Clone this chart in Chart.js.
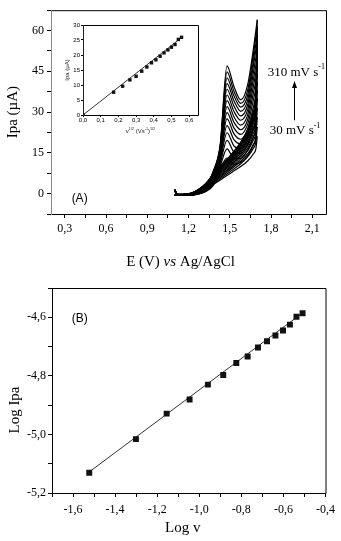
<!DOCTYPE html>
<html>
<head>
<meta charset="utf-8">
<script src="https://cdn.jsdelivr.net/npm/chart.js@4.4.0/dist/chart.umd.min.js"></script>
<style>
  html, body { margin: 0; padding: 0; background: #fff; }
  #wrap { position: relative; width: 341px; height: 541px; }
  canvas { position: absolute; }
  #cv-chart { left: 0; top: 0; }
  #inset-chart { left: 58px; top: 18px; }
  #log-chart { left: 0; top: 270px; }
</style>
</head>
<body>
<div id="wrap">
  <canvas id="cv-chart" width="341" height="270"></canvas>
  <canvas id="inset-chart" width="146" height="122"></canvas>
  <canvas id="log-chart" width="341" height="271"></canvas>
</div>
<script>
// scan rates, mV/s
const scanRates = [30, 50, 70, 90, 110, 130, 150, 170, 190, 210, 230, 250, 270, 290, 310];

// voltammograms (A): potential grid for forward and reverse sweeps, currents in uA
const forwardE = [1.10, 1.12, 1.20, 1.26, 1.32, 1.38, 1.43, 1.48, 1.53, 1.58, 1.63, 1.67, 1.70];
const forwardI = [
  [0.8, -0.4, -0.5, -0.3, 0.6, 3.0, 9.0, 13.1, 10.8, 11.5, 14.0, 17.5, 21.0],
  [0.9, -0.4, -0.5, -0.3, 0.8, 3.5, 10.0, 16.5, 13.0, 13.0, 16.0, 20.5, 24.5],
  [1.0, -0.4, -0.5, -0.2, 0.9, 4.0, 11.0, 19.6, 15.4, 14.8, 18.0, 23.5, 28.0],
  [1.0, -0.4, -0.5, -0.2, 1.0, 4.4, 11.8, 22.4, 17.6, 16.5, 20.0, 26.5, 31.5],
  [1.1, -0.4, -0.5, -0.2, 1.1, 4.8, 12.6, 25.0, 19.9, 18.3, 22.0, 29.0, 35.0],
  [1.1, -0.4, -0.4, -0.1, 1.2, 5.2, 13.3, 27.5, 22.1, 20.0, 23.8, 31.5, 38.0],
  [1.2, -0.4, -0.4, -0.1, 1.3, 5.6, 14.0, 29.8, 24.2, 21.8, 25.5, 34.0, 41.0],
  [1.2, -0.4, -0.4, -0.1, 1.4, 6.0, 14.6, 32.0, 26.3, 23.5, 27.2, 36.5, 44.0],
  [1.3, -0.3, -0.4, 0.0, 1.6, 6.4, 15.2, 34.2, 28.3, 25.2, 29.0, 39.0, 47.0],
  [1.3, -0.3, -0.4, 0.0, 1.7, 6.8, 15.7, 36.3, 30.3, 27.0, 30.8, 41.5, 50.0],
  [1.4, -0.3, -0.4, 0.0, 1.8, 7.1, 16.2, 38.4, 32.3, 28.6, 32.6, 44.0, 53.0],
  [1.4, -0.3, -0.4, 0.1, 1.9, 7.4, 16.6, 40.5, 34.2, 30.3, 34.4, 46.5, 56.0],
  [1.5, -0.3, -0.3, 0.1, 2.0, 7.7, 17.0, 42.6, 36.0, 31.8, 36.2, 48.5, 58.5],
  [1.5, -0.3, -0.3, 0.1, 2.1, 8.0, 17.4, 44.8, 37.8, 33.2, 38.0, 50.5, 61.5],
  [1.6, -0.3, -0.3, 0.2, 2.2, 8.3, 17.8, 47.0, 39.5, 34.5, 40.0, 52.5, 64.0]
];
const reverseE = [1.70, 1.69, 1.67, 1.63, 1.58, 1.52, 1.46, 1.40, 1.32, 1.22, 1.10];
const reverseI = [
  [21.0, 16.5, 14.5, 12.0, 10.0, 8.0, 6.0, 4.0, 1.4, -0.2, -0.6],
  [24.5, 19.0, 16.5, 13.5, 11.0, 8.7, 6.6, 4.4, 1.6, -0.2, -0.6],
  [28.0, 21.0, 18.0, 14.7, 12.0, 9.4, 7.1, 4.8, 1.8, -0.1, -0.6],
  [31.5, 23.0, 19.5, 15.8, 12.8, 10.0, 7.6, 5.2, 2.0, -0.1, -0.6],
  [35.0, 24.8, 20.8, 16.8, 13.6, 10.6, 8.0, 5.6, 2.2, -0.1, -0.6],
  [38.0, 26.5, 22.0, 17.7, 14.3, 11.1, 8.5, 6.0, 2.4, 0.0, -0.6],
  [41.0, 28.0, 23.2, 18.5, 15.0, 11.6, 8.9, 6.3, 2.6, 0.0, -0.6],
  [44.0, 29.5, 24.3, 19.3, 15.6, 12.1, 9.3, 6.6, 2.7, 0.0, -0.5],
  [47.0, 31.0, 25.4, 20.0, 16.2, 12.6, 9.7, 6.9, 2.8, 0.0, -0.5],
  [50.0, 32.3, 26.4, 20.7, 16.8, 13.0, 10.1, 7.2, 3.0, 0.1, -0.5],
  [53.0, 33.6, 27.3, 21.4, 17.3, 13.4, 10.4, 7.5, 3.1, 0.1, -0.5],
  [56.0, 34.8, 28.1, 22.0, 17.8, 13.9, 10.7, 7.8, 3.2, 0.1, -0.5],
  [58.5, 35.9, 28.8, 22.5, 18.2, 14.3, 11.0, 8.0, 3.3, 0.2, -0.5],
  [61.5, 37.0, 29.4, 23.0, 18.6, 14.7, 11.3, 8.3, 3.4, 0.2, -0.5],
  [64.0, 38.0, 30.0, 23.5, 19.0, 15.0, 11.5, 8.5, 3.5, 0.2, -0.5]
];

// inset: Ipa vs v^1/2
const insetX = [0, 0.173, 0.224, 0.265, 0.300, 0.332, 0.361, 0.387, 0.412, 0.436, 0.458, 0.480, 0.500, 0.520, 0.539, 0.557];
const insetY = [0, 7.6, 9.6, 11.7, 12.9, 14.6, 16.0, 17.4, 18.4, 19.6, 20.7, 21.7, 22.6, 23.5, 25.2, 25.9];
const insetFitX = [0, 0.557];
const insetFitY = [0, 25.8];

// (B): log Ipa vs log v
const logV = [-1.523, -1.301, -1.155, -1.046, -0.959, -0.886, -0.824, -0.770, -0.721, -0.678, -0.638, -0.602, -0.569, -0.538, -0.509];
const logIpa = [-5.131, -5.016, -4.929, -4.881, -4.830, -4.797, -4.756, -4.734, -4.703, -4.682, -4.662, -4.645, -4.625, -4.598, -4.586];
const logFitX = [-1.523, -0.509];
const logFitY = [-5.128, -4.585];

const SERIF = '"Liberation Serif", "Times New Roman", serif';
const SANS = '"Liberation Sans", Arial, sans-serif';

Chart.defaults.font.family = SERIF;
Chart.defaults.font.size = 12;
Chart.defaults.color = '#000';
Chart.defaults.animation = false;
Chart.defaults.plugins.legend.display = false;
Chart.defaults.plugins.tooltip.enabled = false;

const comma = v => v.toFixed(1).replace('.', ',');

// text with superscripts / italics: parts = [[text, sup, italic], ...]
function drawRich(ctx, parts, x, y, size, family, align) {
  const fontOf = p => (p[2] ? 'italic ' : '') + (p[1] ? size * 0.62 : size) + 'px ' + family;
  const widths = parts.map(p => { ctx.font = fontOf(p); return ctx.measureText(p[0]).width; });
  const total = widths.reduce((a, b) => a + b, 0);
  let cx = align === 'center' ? x - total / 2 : x;
  ctx.textAlign = 'left';
  ctx.textBaseline = 'middle';
  parts.forEach((p, i) => {
    ctx.font = fontOf(p);
    ctx.fillText(p[0], cx, p[1] ? y - size * 0.4 : y);
    cx += widths[i];
  });
}

function frame(ctx, a, leftColor) {
  ctx.save();
  ctx.lineWidth = 1;
  ctx.strokeStyle = '#000';
  ctx.beginPath();
  ctx.moveTo(a.left, a.top + 0.5);
  ctx.lineTo(a.right + 0.5, a.top + 0.5);
  ctx.lineTo(a.right + 0.5, a.bottom + 0.5);
  ctx.lineTo(a.left, a.bottom + 0.5);
  ctx.stroke();
  ctx.strokeStyle = leftColor || '#000';
  ctx.beginPath();
  ctx.moveTo(a.left + 0.5, a.top);
  ctx.lineTo(a.left + 0.5, a.bottom + 1);
  ctx.stroke();
  ctx.restore();
}

function axisOpts(min, max, step, width, height, labelFn, pad) {
  return {
    type: 'linear', min: min, max: max,
    afterFit: s => { if (width) s.width = width; if (height) s.height = height; },
    border: { display: false },
    grid: { drawOnChartArea: false, drawTicks: true, tickLength: 4, color: '#000' },
    ticks: { stepSize: step, includeBounds: false, autoSkip: false, maxRotation: 0, padding: pad, callback: labelFn }
  };
}

// ---------- (A) voltammograms ----------
const cvDatasets = [];
scanRates.forEach((rate, k) => {
  const style = { showLine: true, borderColor: '#000', borderWidth: 1.2, pointRadius: 0, cubicInterpolationMode: 'monotone', fill: false };
  cvDatasets.push(Object.assign({ label: rate + ' fwd', data: forwardE.map((e, i) => ({ x: e, y: forwardI[k][i] })) }, style));
  cvDatasets.push(Object.assign({ label: rate + ' rev', data: reverseE.map((e, i) => ({ x: e, y: reverseI[k][i] })) }, style));
});

new Chart(document.getElementById('cv-chart'), {
  type: 'scatter',
  data: { datasets: cvDatasets },
  options: {
    responsive: false,
    devicePixelRatio: 1,
    layout: { padding: { top: 6, right: 15, left: 0, bottom: 0 } },
    scales: {
      x: axisOpts(0.2, 2.2, 0.15, null, 56, v => Math.round(v / 0.15) % 2 === 0 ? comma(v) : '', 4),
      y: axisOpts(-7.5, 67.5, 7.5, 51, null, v => {
        const n = Math.round(v / 7.5);
        return n % 2 === 0 && n >= 0 && n <= 8 ? String(Math.round(v)) : '';
      }, 3)
    }
  },
  plugins: [{
    id: 'cvDecor',
    afterDraw(chart) {
      const { ctx, chartArea: a, scales: { x, y } } = chart;
      frame(ctx, a, '#8a8a8a');
      ctx.save();
      ctx.fillStyle = '#000';
      // axis titles
      ctx.save();
      ctx.translate(13, (a.top + a.bottom) / 2);
      ctx.rotate(-Math.PI / 2);
      drawRich(ctx, [['Ipa (\u00b5A)']], 0, 0, 15, SERIF, 'center');
      ctx.restore();
      drawRich(ctx, [['E (V) '], ['vs', false, true], [' Ag/AgCl']], (a.left + a.right) / 2 - 8, 262, 15, SERIF, 'center');
      // panel letter
      drawRich(ctx, [['(A)']], x.getPixelForValue(0.35), y.getPixelForValue(-1.7), 12, SANS, 'left');
      // scan-rate labels and arrow
      drawRich(ctx, [['310 mV s'], ['-1', true]], x.getPixelForValue(1.776), y.getPixelForValue(44.6), 13, SERIF, 'left');
      drawRich(ctx, [['30 mV s'], ['-1', true]], x.getPixelForValue(1.79), y.getPixelForValue(23.1), 13, SERIF, 'left');
      const ax = Math.round(x.getPixelForValue(1.965)) + 0.5;
      const y0 = y.getPixelForValue(27), y1 = y.getPixelForValue(41.4);
      ctx.strokeStyle = '#000';
      ctx.lineWidth = 1;
      ctx.beginPath();
      ctx.moveTo(ax, y0);
      ctx.lineTo(ax, y1 + 4);
      ctx.stroke();
      ctx.beginPath();
      ctx.moveTo(ax, y1);
      ctx.lineTo(ax - 2.5, y1 + 7);
      ctx.lineTo(ax + 2.5, y1 + 7);
      ctx.closePath();
      ctx.fill();
      ctx.restore();
    }
  }]
});

// ---------- inset ----------
new Chart(document.getElementById('inset-chart'), {
  type: 'scatter',
  data: {
    datasets: [
      { label: 'Ipa', data: insetX.map((v, i) => ({ x: v, y: insetY[i] })), pointStyle: 'rect', pointRadius: 2.4, backgroundColor: '#111', borderColor: '#111', borderWidth: 0, order: 0 },
      { label: 'fit', data: insetFitX.map((v, i) => ({ x: v, y: insetFitY[i] })), showLine: true, pointRadius: 0, borderColor: '#333', borderWidth: 1, order: 1 }
    ]
  },
  options: {
    responsive: false,
    devicePixelRatio: 1,
    layout: { padding: { top: 7, right: 6, left: 0, bottom: 0 } },
    scales: {
      x: axisOpts(0, 0.65, 0.1, null, 25, v => comma(v), 0),
      y: axisOpts(0, 30, 5, 25, null, v => String(v), 1)
    }
  },
  plugins: [{
    id: 'insetDecor',
    beforeInit(chart) {
      ['x', 'y'].forEach(k => {
        const s = chart.options.scales[k];
        s.ticks.font = { family: SANS, size: 6 };
        s.grid.tickLength = 2;
      });
    },
    afterDraw(chart) {
      const { ctx, chartArea: a } = chart;
      frame(ctx, a, '#222');
      ctx.save();
      ctx.fillStyle = '#222';
      ctx.translate(9, (a.top + a.bottom) / 2);
      ctx.rotate(-Math.PI / 2);
      drawRich(ctx, [['Ipa (\u00b5A)']], 0, 0, 6, SANS, 'center');
      ctx.restore();
      ctx.save();
      ctx.fillStyle = '#222';
      drawRich(ctx, [['v'], ['1/2', true], [' (Vs'], ['-1', true], [')'], ['1/2', true]], (a.left + a.right) / 2, 113, 6, SANS, 'center');
      ctx.restore();
    }
  }]
});

// ---------- (B) log-log ----------
new Chart(document.getElementById('log-chart'), {
  type: 'scatter',
  data: {
    datasets: [
      { label: 'Log Ipa', data: logV.map((v, i) => ({ x: v, y: logIpa[i] })), pointStyle: 'rect', pointRadius: 4.2, backgroundColor: '#111', borderColor: '#111', borderWidth: 0, order: 0 },
      { label: 'fit', data: logFitX.map((v, i) => ({ x: v, y: logFitY[i] })), showLine: true, pointRadius: 0, borderColor: '#333', borderWidth: 1, order: 1 }
    ]
  },
  options: {
    responsive: false,
    devicePixelRatio: 1,
    layout: { padding: { top: 18, right: 13, left: 0, bottom: 0 } },
    scales: {
      x: axisOpts(-1.7, -0.4, 0.1, null, 48, v => Math.round(v * 10) % 2 === 0 ? comma(v) : '', 6),
      y: axisOpts(-5.2, -4.5, 0.1, 52, null, v => Math.round(v * 10) % 2 === 0 ? comma(v) : '', 2)
    }
  },
  plugins: [{
    id: 'logDecor',
    afterDraw(chart) {
      const { ctx, chartArea: a, scales: { x, y } } = chart;
      frame(ctx, a, '#000');
      ctx.save();
      ctx.fillStyle = '#000';
      ctx.translate(15, 140);
      ctx.rotate(-Math.PI / 2);
      drawRich(ctx, [['Log Ipa']], 0, 0, 15, SERIF, 'center');
      ctx.restore();
      ctx.save();
      ctx.fillStyle = '#000';
      drawRich(ctx, [['Log v']], (a.left + a.right) / 2 - 6, 258, 15, SERIF, 'center');
      drawRich(ctx, [['(B)']], x.getPixelForValue(-1.606), y.getPixelForValue(-4.606), 12, SANS, 'left');
      ctx.restore();
    }
  }]
});
</script>
</body>
</html>
